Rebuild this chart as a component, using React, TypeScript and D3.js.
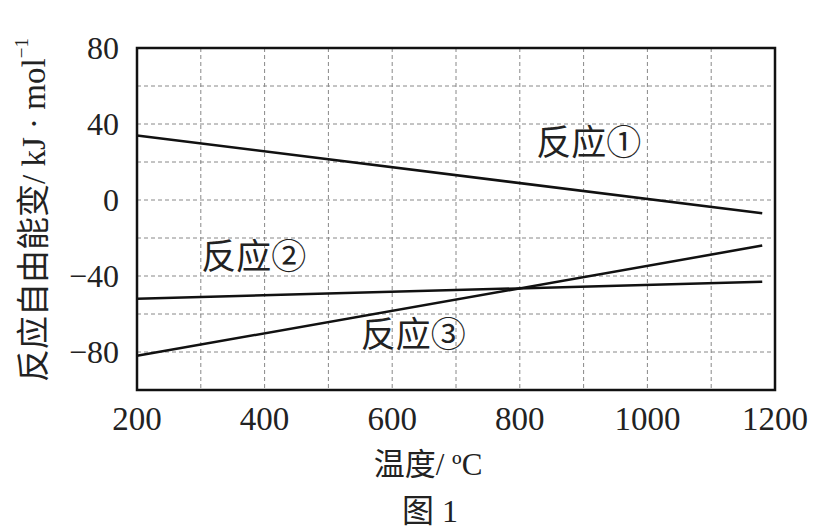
import React from "react";
import * as d3 from "d3";

const xTicks = [200, 400, 600, 800, 1000, 1200];
const yTicks = [80, 40, 0, -40, -80];
const xGrid = [300, 400, 500, 600, 700, 800, 900, 1000, 1100];
const yGrid = [60, 40, 20, 0, -20, -40, -60, -80];

const temps = [200, 1180];
const reaction1 = [34, -7];
const reaction2 = [-52, -43];
const reaction3 = [-82, -24];

const seriesLabels = [
  { text: "反应①", t: 908, v: 30 },
  { text: "反应②", t: 383, v: -30.5 },
  { text: "反应③", t: 633, v: -71.5 },
];

const W = 816;
const H = 531;
const left = 137;
const right = 775;
const top = 48;
const bottom = 390;

export default function App() {
  const x = d3.scaleLinear().domain([200, 1200]).range([left, right]);
  const y = d3.scaleLinear().domain([-100, 80]).range([bottom, top]);
  const line = d3
    .line<[number, number]>()
    .x((d) => x(d[0]))
    .y((d) => y(d[1]));
  const series = [reaction1, reaction2, reaction3];
  const serif = "'Liberation Serif', 'Times New Roman', serif";
  const cjk = "'Liberation Serif', 'Noto Sans CJK SC', serif";
  return (
    <svg
      width={W}
      height={H}
      style={{ position: "absolute", left: 0, top: 0, background: "#fff" }}
    >
      <rect x={0} y={0} width={W} height={H} fill="#fff" />
      {xGrid.map((t) => (
        <line
          key={"xg" + t}
          x1={x(t)}
          x2={x(t)}
          y1={top}
          y2={bottom}
          stroke="#888"
          strokeWidth={1}
          strokeDasharray="4,3"
        />
      ))}
      {yGrid.map((v) => (
        <line
          key={"yg" + v}
          x1={left}
          x2={right}
          y1={y(v)}
          y2={y(v)}
          stroke="#888"
          strokeWidth={1}
          strokeDasharray="4,3"
        />
      ))}
      {series.map((s, i) => (
        <path
          key={"s" + i}
          d={line(temps.map((t, j) => [t, s[j]] as [number, number])) || ""}
          fill="none"
          stroke="#111"
          strokeWidth={2.5}
        />
      ))}
      <rect
        x={left}
        y={top}
        width={right - left}
        height={bottom - top}
        fill="none"
        stroke="#111"
        strokeWidth={2.5}
      />
      {yTicks.map((v) => (
        <text
          key={"yt" + v}
          x={119}
          y={y(v)}
          textAnchor="end"
          dominantBaseline="central"
          fontFamily={serif}
          fontSize={32}
          fill="#222"
        >
          {v < 0 ? "−" + Math.abs(v) : v}
        </text>
      ))}
      {xTicks.map((t) => (
        <text
          key={"xt" + t}
          x={x(t)}
          y={419}
          textAnchor="middle"
          dominantBaseline="central"
          fontFamily={serif}
          fontSize={33}
          fill="#222"
        >
          {t}
        </text>
      ))}
      {seriesLabels.map((l) => (
        <text
          key={l.text}
          x={x(l.t)}
          y={y(l.v)}
          textAnchor="middle"
          dominantBaseline="central"
          fontFamily={cjk}
          fontSize={35}
          fill="#222"
        >
          {l.text}
        </text>
      ))}
      <text
        x={428}
        y={464}
        textAnchor="middle"
        dominantBaseline="central"
        fontFamily={cjk}
        fontSize={31}
        fill="#222"
      >
        温度/ ºC
      </text>
      <text
        x={430}
        y={511}
        textAnchor="middle"
        dominantBaseline="central"
        fontFamily={cjk}
        fontSize={32}
        fill="#222"
      >
        图 1
      </text>
      <text
        transform={`translate(34, 210) rotate(-90)`}
        textAnchor="middle"
        dominantBaseline="central"
        fontFamily={cjk}
        fontSize={33}
        fill="#222"
      >
        反应自由能变/ kJ · mol
        <tspan dy={-13} fontSize={19}>
          −1
        </tspan>
      </text>
    </svg>
  );
}
